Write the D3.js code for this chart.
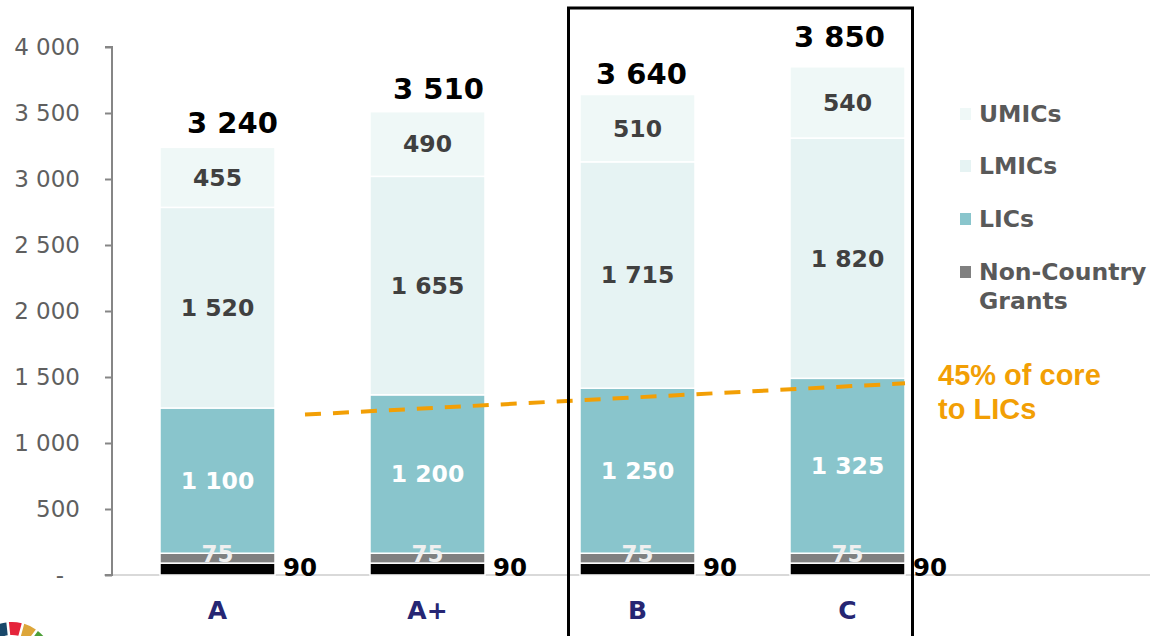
<!DOCTYPE html>
<html>
<head>
<meta charset="utf-8">
<script src="https://cdn.jsdelivr.net/npm/d3@7"></script>
<style>
  html, body { margin: 0; padding: 0; background: #fff; }
  svg { display: block; }
</style>
</head>
<body>
<div id="chart"></div>
<script>
  // scenario categories
  var categories = ['A', 'A+', 'B', 'C'];
  // stacked series, bottom to top
  var baseValues = [90, 90, 90, 90];
  var nonCountry = [75, 75, 75, 75];
  var lics = [1100, 1200, 1250, 1325];
  var lmics = [1520, 1655, 1715, 1820];
  var umics = [455, 490, 510, 540];
  var totals = [3240, 3510, 3640, 3850];
  var yTicks = [0, 500, 1000, 1500, 2000, 2500, 3000, 3500, 4000];
  var legendNames = ['UMICs', 'LMICs', 'LICs', 'Non-Country Grants'];
  // dashed "45% of core" guide: start / end values
  var coreLine = [1215, 1452];
  var sdgColors = ['#19486A', '#E5243B', '#DDA63A', '#4C9F38', '#C5192D', '#FF3A21', '#26BDE2',
                   '#FCC30B', '#A21942', '#FD6925', '#DD1367', '#FD9D24', '#BF8B2E', '#3F7E44',
                   '#0A97D9', '#56C02B', '#00689D'];

  var W = 1152, H = 636;
  var fmt = function(v){ return d3.format(',')(v).replace(/,/g, ' '); };

  var svg = d3.select('#chart').append('svg')
              .attr('width', W)
              .attr('height', H);

  var y = d3.scaleLinear().domain([0, 4000]).range([575, 47]);
  var x = d3.scalePoint().domain(categories).range([217.5, 847.5]);
  var barW = 115;

  // x baseline
  svg.append('line')
     .attr('x1', 104).attr('x2', 1150)
     .attr('y1', y(0)).attr('y2', y(0))
     .attr('stroke', '#D9D9D9').attr('stroke-width', 2);

  // y axis
  var yAxis = d3.axisLeft(y)
                .tickValues(yTicks)
                .tickSize(7)
                .tickFormat(function(d){ return d === 0 ? '-' : fmt(d); });
  var yg = svg.append('g')
              .attr('transform', 'translate(112,0)')
              .call(yAxis);
  yg.select('.domain').attr('stroke', '#868686').attr('stroke-width', 2)
    .attr('d', 'M-7,' + y(4000) + 'H0V' + y(0) + 'H-7');
  yg.selectAll('.tick line').attr('stroke', '#868686').attr('stroke-width', 2);
  yg.selectAll('.tick text')
    .attr('x', -32)
    .attr('fill', '#5f5f5f')
    .style('font-family', 'DejaVu Sans, Verdana, sans-serif')
    .style('font-size', '23px');
  yg.selectAll('.tick').filter(function(d){ return d === 0; }).select('text').attr('x', -48);

  // build stacks
  var rows = categories.map(function(c, i){
    return {cat: c, base: baseValues[i], ncg: nonCountry[i], lic: lics[i], lmic: lmics[i], umic: umics[i], total: totals[i]};
  });
  var keys = ['base', 'ncg', 'lic', 'lmic', 'umic'];
  var fills = {base: '#000000', ncg: '#808080', lic: '#89C5CC', lmic: '#E6F3F3', umic: '#EFF8F7'};
  var stack = d3.stack().keys(keys)(rows);

  var layers = svg.append('g').selectAll('g')
                  .data(stack)
                  .enter()
                  .append('g')
                  .attr('fill', function(d){ return fills[d.key]; });

  layers.selectAll('rect')
        .data(function(d){ return d; })
        .enter()
        .append('rect')
        .attr('x', function(d){ return x(d.data.cat) - barW / 2; })
        .attr('width', barW)
        .attr('y', function(d){ return y(d[1]); })
        .attr('height', function(d){ return y(d[0]) - y(d[1]); })
        .attr('stroke', '#fff')
        .attr('stroke-width', 1.5);

  var boldFont = 'DejaVu Sans, Verdana, sans-serif';

  // segment labels (LICs, LMICs, UMICs)
  [['lic', '#ffffff'], ['lmic', '#404040'], ['umic', '#404040']].forEach(function(p){
    var layer = stack.filter(function(s){ return s.key === p[0]; })[0];
    svg.append('g').selectAll('text')
       .data(layer)
       .enter()
       .append('text')
       .attr('x', function(d){ return x(d.data.cat); })
       .attr('y', function(d){ return (y(d[0]) + y(d[1])) / 2; })
       .attr('dy', '0.36em')
       .attr('text-anchor', 'middle')
       .attr('fill', p[1])
       .style('font-family', boldFont)
       .style('font-weight', 'bold')
       .style('font-size', '23.5px')
       .text(function(d){ return fmt(d.data[p[0]]); });
  });

  // "75" labels on the non-country grants slice
  var ncgLayer = stack[1];
  svg.append('g').selectAll('text')
     .data(ncgLayer)
     .enter()
     .append('text')
     .attr('x', function(d){ return x(d.data.cat); })
     .attr('y', function(d){ return y(d[1]); })
     .attr('dy', '0.36em')
     .attr('text-anchor', 'middle')
     .attr('fill', '#EFEFEF')
     .style('font-family', boldFont)
     .style('font-weight', 'bold')
     .style('font-size', '23px')
     .text(function(d){ return d.data.ncg; });

  // "90" labels right of bar
  svg.append('g').selectAll('text')
     .data(stack[0])
     .enter()
     .append('text')
     .attr('x', function(d){ return x(d.data.cat) + barW / 2 + 8; })
     .attr('y', function(d){ return y(0) + 1; })
     .attr('fill', '#000')
     .style('font-family', boldFont)
     .style('font-weight', 'bold')
     .style('font-size', '24.5px')
     .text(function(d){ return d.data.base; });

  // totals (hand-placed in the original, so small per-label nudges)
  var nudgeX = [15, 11, 4, -8];
  var nudgeY = [0, 1, 3, -6];
  svg.append('g').selectAll('text')
     .data(rows)
     .enter()
     .append('text')
     .attr('x', function(d, i){ return x(d.cat) + nudgeX[i]; })
     .attr('y', function(d, i){ return y(d.total) - 14 + nudgeY[i]; })
     .attr('text-anchor', 'middle')
     .attr('fill', '#000')
     .style('font-family', boldFont)
     .style('font-weight', 'bold')
     .style('font-size', '29px')
     .text(function(d){ return fmt(d.total); });

  // category labels
  svg.append('g').selectAll('text')
     .data(categories)
     .enter()
     .append('text')
     .attr('x', function(d){ return x(d); })
     .attr('y', 619)
     .attr('text-anchor', 'middle')
     .attr('fill', '#262673')
     .style('font-family', boldFont)
     .style('font-weight', 'bold')
     .style('font-size', '25px')
     .text(function(d){ return d; });

  // dashed 45% line
  var line = d3.line()
               .x(function(d){ return d.x; })
               .y(function(d){ return y(d.v); });
  var linePts = [{x: x('A') + barW / 2 + 30, v: coreLine[0]}, {x: x('C') + barW / 2, v: coreLine[1]}];
  svg.append('path')
     .attr('d', line(linePts))
     .attr('fill', 'none')
     .attr('stroke', '#F29F05')
     .attr('stroke-width', 4)
     .attr('stroke-dasharray', '16,12');

  var note = svg.append('text')
                .attr('fill', '#F29F05')
                .style('font-family', 'Liberation Sans, Arial, sans-serif')
                .style('font-weight', 'bold')
                .style('font-size', '29px');
  note.append('tspan').attr('x', 938).attr('y', 385).text('45% of core');
  note.append('tspan').attr('x', 938).attr('y', 419).text('to LICs');

  // highlight box around B and C
  svg.append('rect')
     .attr('x', x('B') - 69)
     .attr('y', 8)
     .attr('width', x('C') - x('B') + 134)
     .attr('height', 640)
     .attr('fill', 'none')
     .attr('stroke', '#000')
     .attr('stroke-width', 3);

  // legend
  var legendFill = ['#EFF8F7', '#E6F3F3', '#89C5CC', '#808080'];
  var legendY = [114, 166, 219, 272];
  var lg = svg.append('g');
  legendNames.forEach(function(name, i){
    lg.append('rect')
      .attr('x', 960).attr('y', legendY[i] - 6)
      .attr('width', 11).attr('height', 12)
      .attr('fill', legendFill[i]);
    var t = lg.append('text')
              .attr('fill', '#595959')
              .style('font-family', boldFont)
              .style('font-weight', 'bold')
              .style('font-size', '23.5px');
    if (name === 'Non-Country Grants') {
      t.append('tspan').attr('x', 979).attr('y', legendY[i]).attr('dy', '0.36em').text('Non-Country');
      t.append('tspan').attr('x', 979).attr('y', legendY[i] + 29).attr('dy', '0.36em').text('Grants');
    } else {
      t.attr('x', 979).attr('y', legendY[i]).attr('dy', '0.36em').text(name);
    }
  });

  // SDG wheel fragment, bottom-left
  var seg = 2 * Math.PI / 17;
  var rot = -seg - 6 * Math.PI / 180;
  var pie = d3.pie().value(function(){ return 1; }).sort(null)
              .startAngle(rot).endAngle(rot + 2 * Math.PI);
  var arc = d3.arc().innerRadius(29).outerRadius(42).padAngle(0.05);
  svg.append('g')
     .attr('transform', 'translate(12,664)')
     .selectAll('path')
     .data(pie(sdgColors))
     .enter()
     .append('path')
     .attr('d', arc)
     .attr('fill', function(d){ return d.data; });
</script>
</body>
</html>
